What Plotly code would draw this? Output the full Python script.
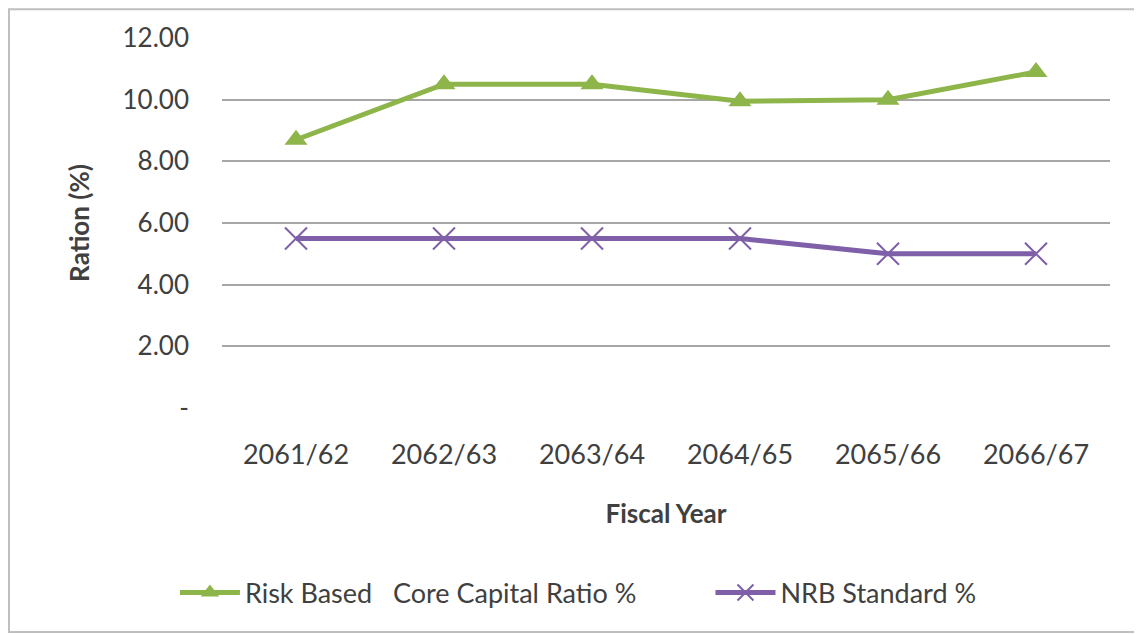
import plotly.graph_objects as go

# data
fiscal_years = ["2061/62", "2062/63", "2063/64", "2064/65", "2065/66", "2066/67"]
core_capital_ratio = [8.70, 10.50, 10.50, 9.95, 10.00, 10.90]
nrb_standard = [5.50, 5.50, 5.50, 5.50, 5.00, 5.00]

y_ticks = [0, 2, 4, 6, 8, 10, 12]
y_tick_labels = ["-", "2.00", "4.00", "6.00", "8.00", "10.00", "12.00"]

font_family = "Lato, 'Open Sans', sans-serif"
text_color = "#404040"

fig = go.Figure()

fig.add_trace(go.Scatter(
    x=fiscal_years, y=core_capital_ratio,
    name="Risk Based   Core Capital Ratio %          ",
    mode="lines+markers",
    line=dict(color="#8DB54A", width=5),
    marker=dict(symbol="triangle-up", size=20, color="#8DB54A"),
))

fig.add_trace(go.Scatter(
    x=fiscal_years, y=nrb_standard,
    name="NRB Standard %",
    mode="lines+markers",
    line=dict(color="#7E5FA8", width=5),
    marker=dict(symbol="x-thin-open", size=22,
                line=dict(color="#A995CC", width=2)),
))

# page has an 8px body margin, so the figure is laid out 8px up/left
fig.update_layout(
    width=1142, height=634,
    margin=dict(l=214, r=40, t=30, b=234),
    paper_bgcolor="white", plot_bgcolor="white",
    font=dict(family=font_family, color=text_color),
    showlegend=True,
    legend=dict(
        orientation="h", x=-0.053, xanchor="left", y=-0.50, yanchor="middle",
        font=dict(size=27, color=text_color),
        itemwidth=60,
        traceorder="normal",
    ),
)

fig.update_xaxes(
    type="category", automargin=False,
    range=[-0.5, len(fiscal_years) - 0.5],
    showline=False, showgrid=False, ticks="",
    ticklabelstandoff=28,
    tickfont=dict(size=27, color=text_color),
    title=dict(text="<b>Fiscal Year</b>", font=dict(size=26, color=text_color), standoff=35),
)

fig.update_yaxes(
    range=[0, 12], automargin=False,
    tickvals=y_ticks, ticktext=y_tick_labels,
    showgrid=True, gridcolor="#A6A6A6", gridwidth=2,
    zeroline=False, showline=False, ticks="",
    ticklabelstandoff=32,
    tickfont=dict(size=26, color=text_color),
    title=dict(text="<b>Ration (%)</b>", font=dict(size=26, color=text_color), standoff=25),
)

# grey chart frame around everything
fig.add_shape(
    type="rect", xref="paper", yref="paper",
    x0=-0.2399, x1=1.0304, y0=-0.6054, y1=1.078,
    line=dict(color="#BFBFBF", width=2), fillcolor="rgba(0,0,0,0)",
    layer="below",
)

fig.write_html("out.html")
